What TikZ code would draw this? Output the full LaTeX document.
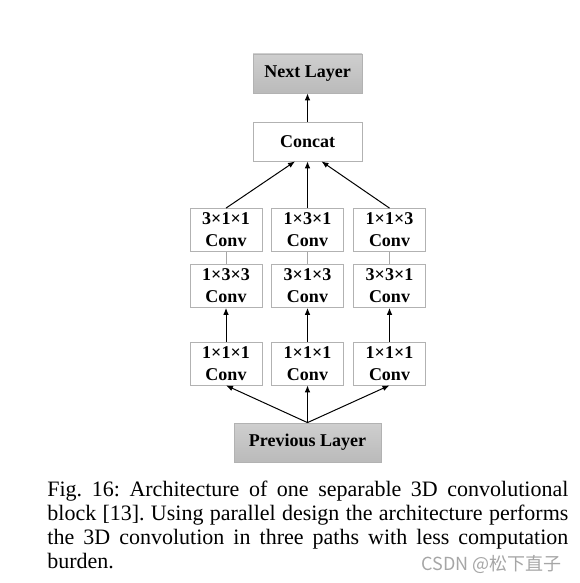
\documentclass[tikz,border=0pt]{standalone}
\usepackage{fontspec}
\setmainfont{Liberation Serif}
\newfontfamily\cjk{Noto Sans CJK SC}
\usetikzlibrary{arrows.meta}

\tikzset{
  layer/.style={draw=gray!60, top color=gray!38, bottom color=gray!54,
    minimum width=54.5pt, minimum height=19.5pt, inner sep=0pt,
    font=\fontsize{9}{11}\selectfont\bfseries},
  convbox/.style={draw=black!30, fill=white, minimum width=36pt,
    minimum height=21.5pt, inner sep=0pt, align=center,
    font=\fontsize{9}{11}\selectfont\bfseries},
  arr/.style={-{Latex[length=3.5pt,width=2.8pt]}, line width=0.5pt},
  link/.style={draw=black!35, line width=0.5pt}
}

\begin{document}
\begin{tikzpicture}[x=0.5pt,y=-0.5pt]
\useasboundingbox (0,0) rectangle (579,583);
\node[layer] (next) at (307.5,73.5) {Next Layer};
\node[convbox, minimum width=54.5pt, minimum height=19.5pt] (concat) at (307.5,141.5) {Concat};
\node[layer, minimum width=73.5pt] (prev) at (307.5,442.5) {Previous Layer};
\draw[arr] (concat) -- (next);
\foreach \i/\x/\ka/\kb in {1/226/3×1×1/1×3×3, 2/307.5/1×3×1/3×1×3, 3/389.5/1×1×3/3×3×1} {
  \node[convbox] (a\i) at (\x,230) {\ka\\Conv};
  \node[convbox] (b\i) at (\x,286) {\kb\\Conv};
  \node[convbox] (c\i) at (\x,363.5) {1×1×1\\Conv};
  \draw[link] (a\i) -- (b\i);
  \draw[arr] (c\i) -- (b\i);
  \draw[arr] (prev.north) -- (c\i.south);
}
\draw[arr] (a1.north) -- ([xshift=-6.25pt]concat.south);
\draw[arr] (a2.north) -- (concat.south);
\draw[arr] (a3.north) -- ([xshift=7pt]concat.south);
% caption and mark
\node[anchor=base west, inner sep=0pt, font=\fontsize{11}{12}\selectfont] (caption) at (47,496)
  {\parbox[t]{260.5pt}{\frenchspacing\hyphenpenalty=10000
  Fig.\ 16: Architecture of one separable 3D convolutional\linebreak
  block [13]. Using parallel design the architecture performs\linebreak
  the 3D convolution in three paths with less computation\linebreak
  burden.}};
\node[anchor=base east, inner sep=0pt, text=black!35, font=\cjk\fontsize{9}{9}\selectfont] (mark) at (562,570) {CSDN @松下直子};
\end{tikzpicture}
\end{document}
